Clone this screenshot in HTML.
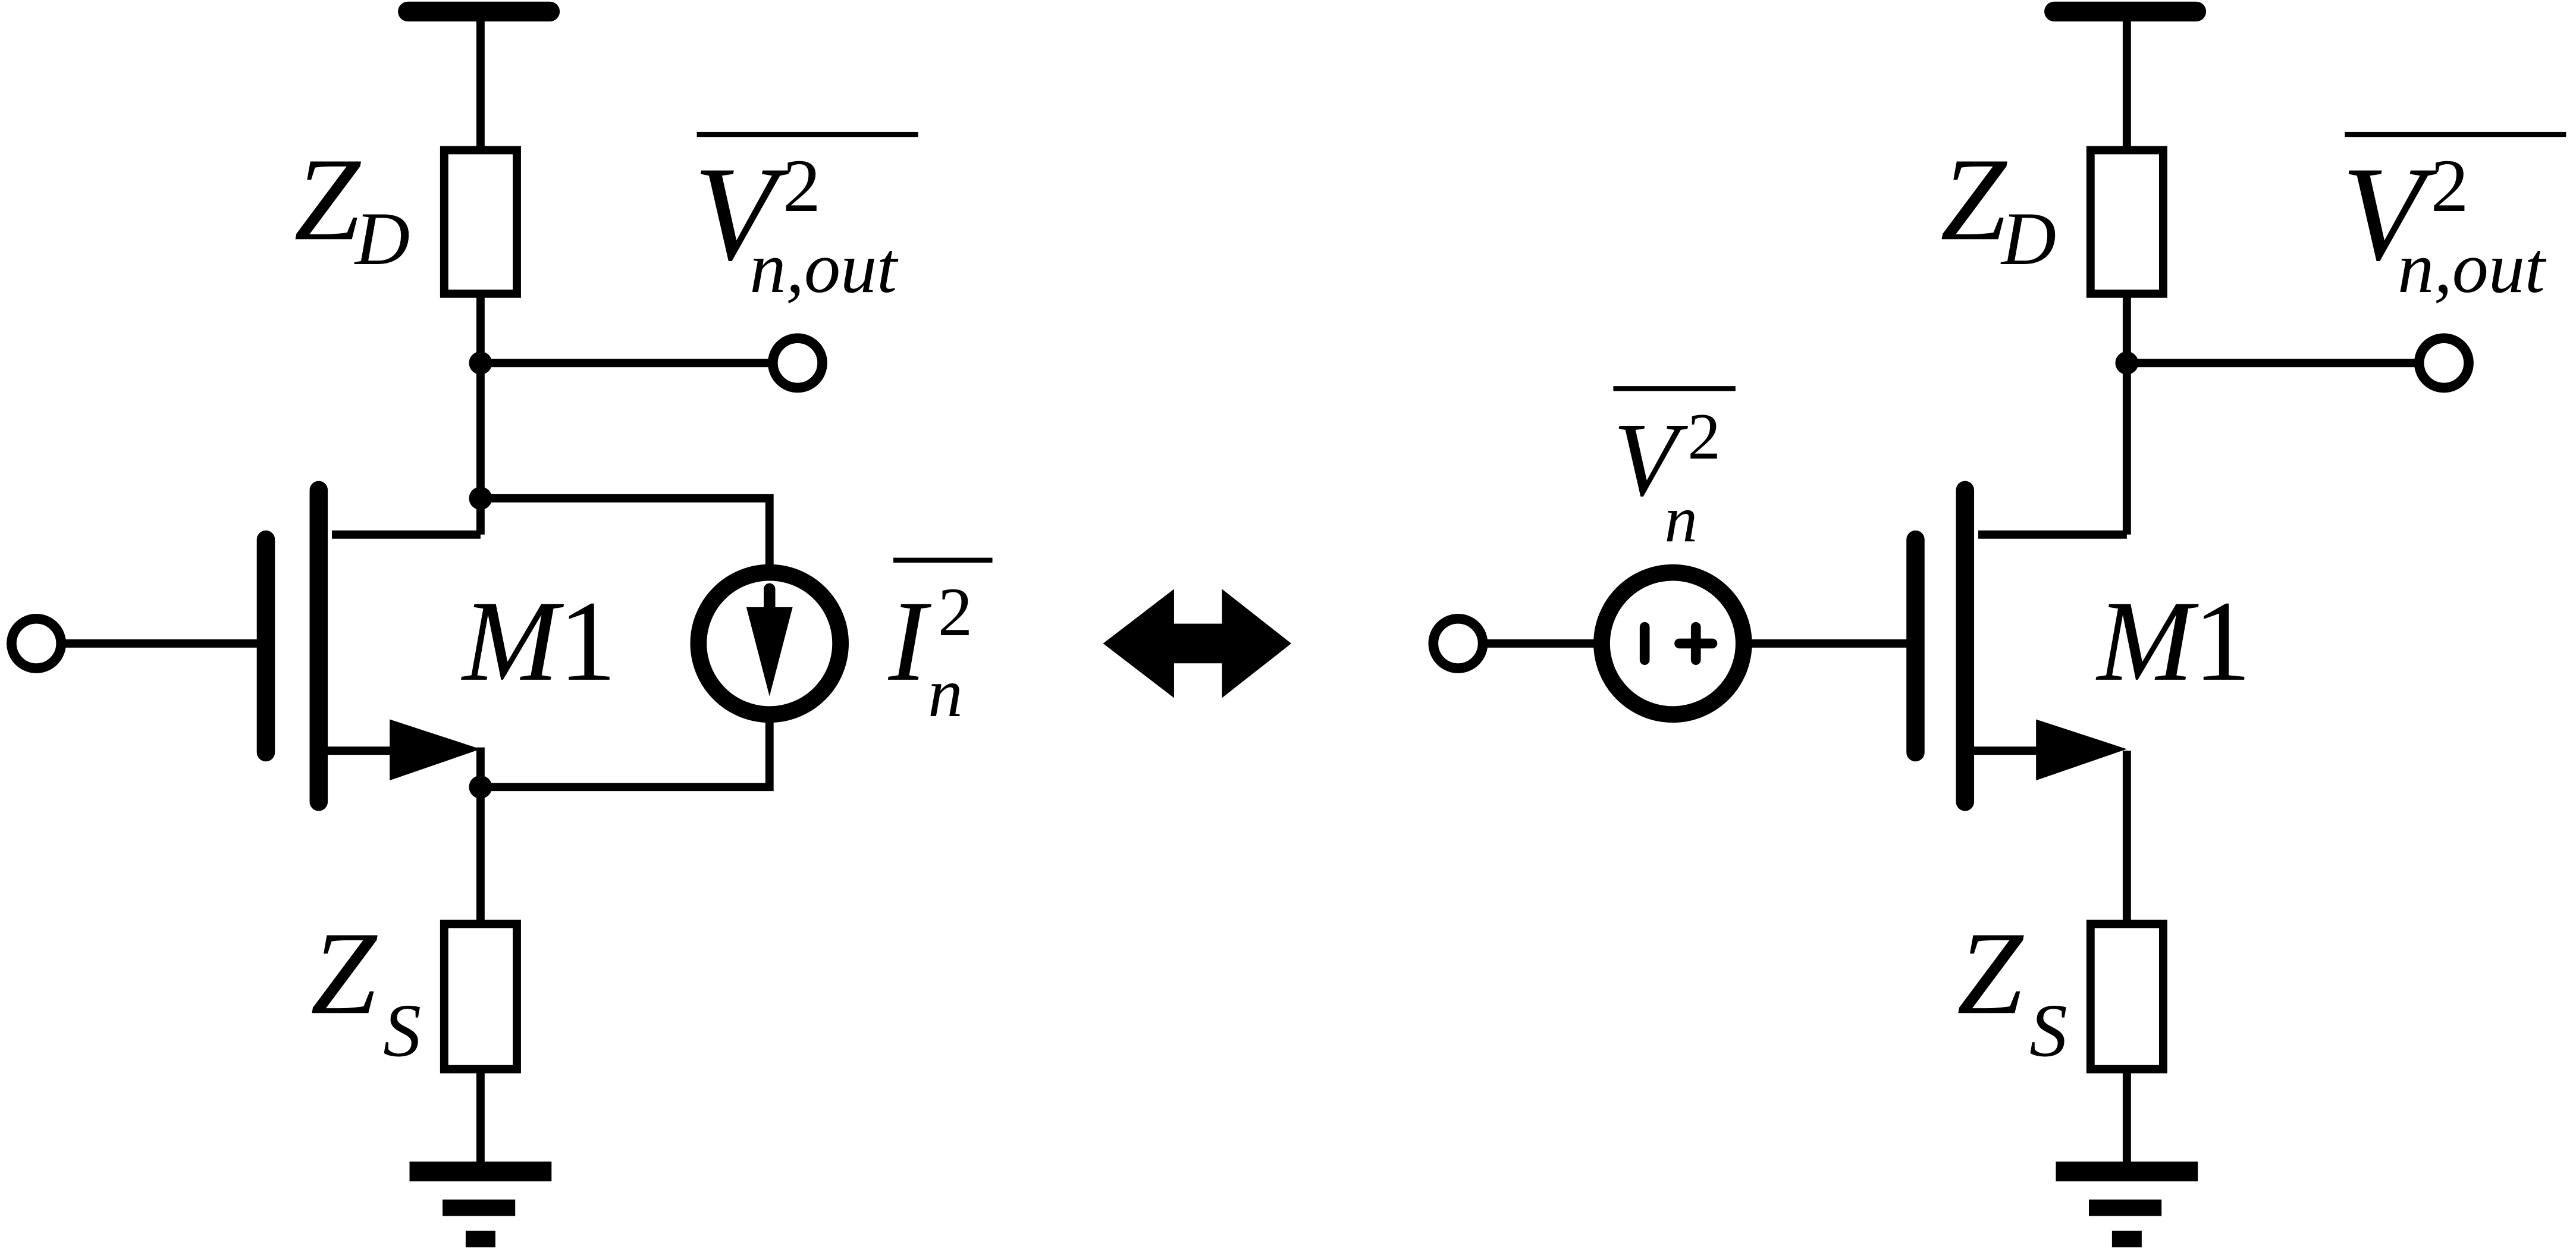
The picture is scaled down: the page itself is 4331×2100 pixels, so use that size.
<!DOCTYPE html>
<html><head><meta charset="utf-8"><style>
html,body{margin:0;padding:0;background:#fff;}
svg{display:block;}
</style></head><body>
<svg width="4331" height="2100" viewBox="0 0 1560 757" preserveAspectRatio="none" xmlns="http://www.w3.org/2000/svg">
<g stroke="#000" fill="none" stroke-width="5" stroke-linecap="butt">
<!-- LEFT -->
<line x1="247" y1="7" x2="333" y2="7" stroke-width="12" stroke-linecap="round"/>
<line x1="291" y1="7" x2="291" y2="91"/>
<rect x="269" y="91" width="44" height="87"/>
<line x1="291" y1="178" x2="291" y2="324"/>
<line x1="291" y1="220" x2="467" y2="220"/>
<circle cx="483" cy="220" r="15" stroke-width="6"/>
<polyline points="291,302 466,302 466,345"/>
<circle cx="466" cy="390" r="43" stroke-width="10"/>
<line x1="466" y1="357" x2="466" y2="370" stroke-width="7" stroke-linecap="round"/>
<polyline points="201,324 291,324"/>
<line x1="193" y1="297" x2="193" y2="486" stroke-width="11" stroke-linecap="round"/>
<line x1="161" y1="327" x2="161" y2="456" stroke-width="11" stroke-linecap="round"/>
<circle cx="22" cy="390" r="15" stroke-width="6"/>
<line x1="37" y1="390" x2="161" y2="390"/>
<line x1="198" y1="455" x2="240" y2="455"/>
<line x1="291" y1="453" x2="291" y2="560"/>
<polyline points="291,477 466,477 466,435"/>
<rect x="269" y="560" width="44" height="88"/>
<line x1="291" y1="648" x2="291" y2="705"/>
<!-- RIGHT -->
<line x1="1244" y1="7" x2="1330" y2="7" stroke-width="12" stroke-linecap="round"/>
<line x1="1288" y1="7" x2="1288" y2="91"/>
<rect x="1266" y="91" width="44" height="87"/>
<line x1="1288" y1="178" x2="1288" y2="324"/>
<line x1="1288" y1="220" x2="1464" y2="220"/>
<circle cx="1480" cy="220" r="15" stroke-width="6"/>
<polyline points="1198,324 1288,324"/>
<line x1="1190" y1="297" x2="1190" y2="486" stroke-width="11" stroke-linecap="round"/>
<line x1="1160" y1="327" x2="1160" y2="456" stroke-width="11" stroke-linecap="round"/>
<line x1="1060" y1="390" x2="1160" y2="390"/>
<circle cx="1013" cy="390" r="43" stroke-width="10"/>
<line x1="898" y1="390" x2="966" y2="390"/>
<circle cx="883" cy="390" r="15" stroke-width="6"/>
<line x1="996" y1="380" x2="996" y2="400" stroke-width="6" stroke-linecap="round"/>
<line x1="1027" y1="380" x2="1027" y2="400" stroke-width="6" stroke-linecap="round"/>
<line x1="1017" y1="390" x2="1037" y2="390" stroke-width="6" stroke-linecap="round"/>
<line x1="1195" y1="455" x2="1237" y2="455"/>
<line x1="1288" y1="455" x2="1288" y2="560"/>
<rect x="1266" y="560" width="44" height="88"/>
<line x1="1288" y1="648" x2="1288" y2="705"/>
</g>
<g fill="#000">
<ellipse cx="291" cy="220" rx="7" ry="7"/>
<ellipse cx="291" cy="302" rx="7" ry="7"/>
<ellipse cx="291" cy="477" rx="7" ry="7"/>
<ellipse cx="1288" cy="220" rx="7" ry="7"/>
<polygon points="236,436 291,454 236,473"/>
<polygon points="1233,436 1288,454 1233,473"/>
<polygon points="452,368 480,368 466,422"/>
<rect x="248" y="704" width="86" height="12"/>
<rect x="268" y="727" width="44" height="10"/>
<rect x="282" y="746" width="18" height="10"/>
<rect x="1245" y="704" width="86" height="12"/>
<rect x="1265" y="727" width="44" height="10"/>
<rect x="1279" y="746" width="18" height="10"/>
<polygon points="668,390 711,357 711,378 740,378 740,357 782,390 740,423 740,402 711,402 711,423"/>
<rect x="422" y="80" width="134" height="3"/>
<rect x="1420" y="80" width="134" height="3"/>
<rect x="541" y="338" width="60" height="3"/>
<rect x="977" y="234" width="74" height="3"/>
</g>
<g font-family="'Liberation Serif', 'Times New Roman', 'DejaVu Serif', serif" fill="#000">
<text font-style="italic" x="178" y="145" font-size="72">Z</text>
<text font-style="italic" x="215" y="160" font-size="46">D</text>
<text font-style="italic" x="188" y="614" font-size="72">Z</text>
<text font-style="italic" x="232" y="640" font-size="46">S</text>
<text font-style="italic" x="1175" y="145" font-size="72">Z</text>
<text font-style="italic" x="1212" y="160" font-size="46">D</text>
<text font-style="italic" x="1185" y="614" font-size="72">Z</text>
<text font-style="italic" x="1229" y="640" font-size="46">S</text>
<text x="280" y="412" font-size="70"><tspan font-style="italic">M</tspan>1</text>
<text x="1270" y="412" font-size="70"><tspan font-style="italic">M</tspan>1</text>
<text font-style="italic" x="420" y="157" font-size="82">V</text>
<text x="474" y="128" font-size="46">2</text>
<text font-style="italic" x="454" y="177" font-size="44">n,out</text>
<text font-style="italic" x="1418" y="157" font-size="82">V</text>
<text x="1472" y="128" font-size="46">2</text>
<text font-style="italic" x="1452" y="177" font-size="44">n,out</text>
<text font-style="italic" x="538" y="412" font-size="70">I</text>
<text x="568" y="385" font-size="42">2</text>
<text font-style="italic" x="562" y="434" font-size="42">n</text>
<text font-style="italic" x="977" y="300" font-size="64">V</text>
<text x="1022" y="278" font-size="40">2</text>
<text font-style="italic" x="1008" y="328" font-size="40">n</text>
</g>
</svg>
</body></html>
